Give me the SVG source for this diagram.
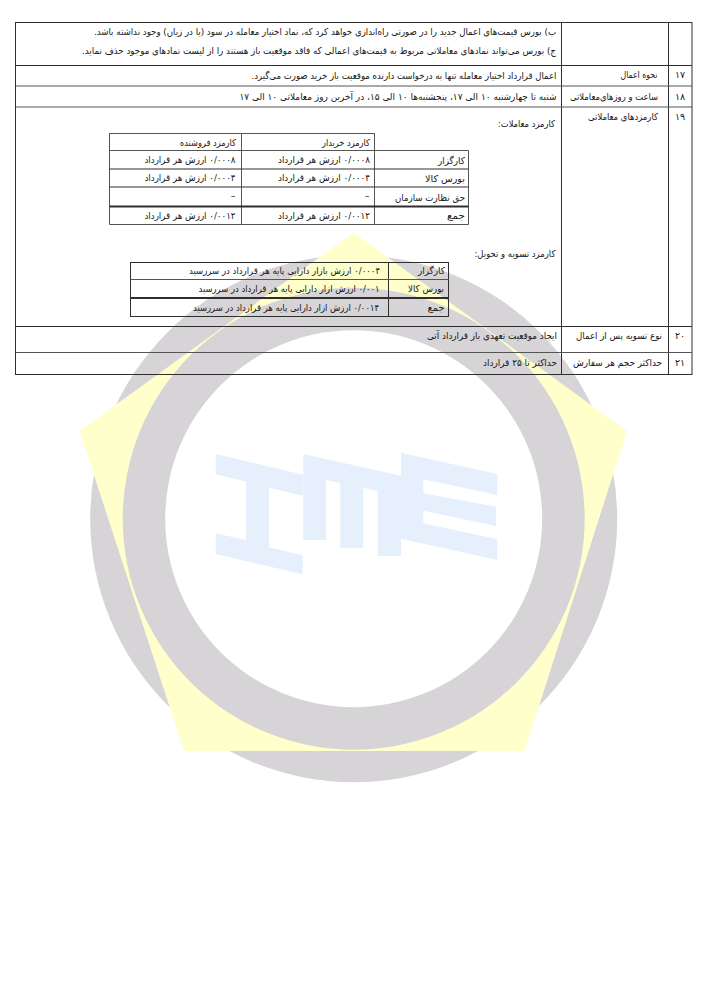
<svg xmlns="http://www.w3.org/2000/svg" width="707" height="1000" viewBox="0 0 707 1000">
<style>
text{font-family:"DejaVu Sans","Noto Sans",sans-serif;font-size:9.5px;fill:#161616;direction:rtl;text-anchor:middle;unicode-bidi:embed}
.l{stroke:#2e2e2e;stroke-width:1;fill:none}
.g{stroke:#555;stroke-width:1;fill:none}
.h{stroke:#2e2e2e;stroke-width:2;fill:none}
.logo{fill:#e6f0fc}
</style>
<rect width="707" height="1000" fill="#fff"/>
<g id="watermark">
<circle cx="353.7" cy="518.7" r="263.5" fill="#d6d4d6"/>
<polygon points="353.5,232.5 627,431 524.6,751 184,751 79.6,431" fill="#ffffcc"/>
<circle cx="353.7" cy="518.7" r="231" fill="#d6d4d6"/>
<circle cx="353.7" cy="518.7" r="188.5" fill="#fff"/>
<g class="logo" transform="translate(200 440) scale(.3333)">
<polygon points="47,42 310,104 310,167 207,143 207,322 308,346 308,403 47,342 47,280 138,300 138,125 47,103"/>
<polygon points="310,42 603,107 603,348 533,348 533,152 490,144 490,323 421,323 421,130 378,120 378,300 310,300"/>
<polygon points="603,38 892,102 892,165 670,118 670,160 888,200 888,258 670,212 670,250 892,298 892,360 603,296"/>
</g>
</g>
<g id="main-table">
<rect class="l" x="15.500" y="22.500" width="676.500" height="352"/>
<path class="l" d="M561.500 22.500V374.500M668.500 22.500V374.500M15.500 65.500H692M15.500 326.500H692"/>
<path class="g" d="M15.500 86H692M15.500 107H692M15.500 352.500H692"/>
</g>
<g id="fee-table">
<rect class="g" x="109.500" y="133.500" width="265" height="17"/>
<path class="g" d="M109.500 150.500V224.500H468.500V150.500H109.500M241.500 133.500V224.500M374.500 133.500V224.500"/>
<path class="l" d="M109.500 169H468.500M109.500 187H468.500"/>
<path class="h" d="M109.500 206.500H468.500"/>
</g>
<g id="settlement-table">
<rect class="l" x="130.500" y="262.500" width="318" height="54"/>
<path class="l" d="M388.500 262.500V316.500"/>
<path class="g" d="M130.500 279.500H448.500"/>
<path class="h" d="M130.500 298H448.500"/>
</g>
<g id="texts">
<text x="325" y="35" textLength="462" lengthAdjust="spacingAndGlyphs">ب) بورس قیمت‌های اعمال جدید را در صورتی راه‌اندازی خواهد کرد که، نماد اختیار معامله در سود (یا در زیان) وجود نداشته باشد.</text>
<text x="319" y="53.500" textLength="474" lengthAdjust="spacingAndGlyphs">ج) بورس می‌تواند نمادهای معاملاتی مربوط به قیمت‌های اعمالی که فاقد موقعیت باز هستند را از لیست نمادهای موجود حذف نماید.</text>
<text x="404" y="78.500" textLength="305" lengthAdjust="spacingAndGlyphs">اعمال قرارداد اختیار معامله تنها به درخواست دارنده موقعیت باز خرید صورت می‌گیرد.</text>
<text x="639" y="78" textLength="37" lengthAdjust="spacingAndGlyphs">نحوه اعمال</text>
<text x="680" y="78">۱۷</text>
<text x="398" y="100" textLength="317" lengthAdjust="spacingAndGlyphs">شنبه تا چهارشنبه ۱۰ الی ۱۷، پنجشنبه‌ها ۱۰ الی ۱۵، در آخرین روز معاملاتی ۱۰ الی ۱۷</text>
<text x="614" y="100" textLength="88" lengthAdjust="spacingAndGlyphs">ساعت و روزهای‌معاملاتی</text>
<text x="680" y="100">۱۸</text>
<text x="623" y="120" textLength="70" lengthAdjust="spacingAndGlyphs">کارمزدهای معاملاتی</text>
<text x="680" y="120">۱۹</text>
<text x="526.500" y="127" textLength="57" lengthAdjust="spacingAndGlyphs">کارمزد معاملات:</text>
<text x="208" y="146" textLength="56" lengthAdjust="spacingAndGlyphs">کارمزد فروشنده</text>
<text x="346" y="146" textLength="48" lengthAdjust="spacingAndGlyphs">کارمزد خریدار</text>
<text x="451.500" y="164" textLength="27" lengthAdjust="spacingAndGlyphs">کارگزار</text>
<text x="190" y="163" textLength="91" lengthAdjust="spacingAndGlyphs">۰/۰۰۰۸ ارزش هر قرارداد</text>
<text x="324" y="163" textLength="92" lengthAdjust="spacingAndGlyphs">۰/۰۰۰۸ ارزش هر قرارداد</text>
<text x="445" y="182" textLength="40" lengthAdjust="spacingAndGlyphs">بورس کالا</text>
<text x="190" y="181" textLength="91" lengthAdjust="spacingAndGlyphs">۰/۰۰۰۴ ارزش هر قرارداد</text>
<text x="324" y="181" textLength="92" lengthAdjust="spacingAndGlyphs">۰/۰۰۰۴ ارزش هر قرارداد</text>
<text x="430" y="201" textLength="70" lengthAdjust="spacingAndGlyphs">حق نظارت سازمان</text>
<text x="233" y="199">–</text>
<text x="367" y="199">–</text>
<text x="456" y="219" textLength="18" lengthAdjust="spacingAndGlyphs">جمع</text>
<text x="190" y="219" textLength="91" lengthAdjust="spacingAndGlyphs">۰/۰۰۱۲ ارزش هر قرارداد</text>
<text x="324" y="219" textLength="92" lengthAdjust="spacingAndGlyphs">۰/۰۰۱۲ ارزش هر قرارداد</text>
<text x="515" y="257" textLength="81" lengthAdjust="spacingAndGlyphs">کارمزد تسویه و تحویل:</text>
<text x="431.500" y="274" textLength="27" lengthAdjust="spacingAndGlyphs">کارگزار</text>
<text x="284.500" y="274" textLength="191" lengthAdjust="spacingAndGlyphs">۰/۰۰۰۴ ارزش بازار دارایی پایه هر قرارداد در سررسید</text>
<text x="426" y="292" textLength="36" lengthAdjust="spacingAndGlyphs">بورس کالا</text>
<text x="289" y="292" textLength="181" lengthAdjust="spacingAndGlyphs">۰/۰۰۱ ارزش ازار دارایی پایه هر قرارداد در سررسید</text>
<text x="436" y="311" textLength="17" lengthAdjust="spacingAndGlyphs">جمع</text>
<text x="286" y="311" textLength="186" lengthAdjust="spacingAndGlyphs">۰/۰۰۱۴ ارزش ازار دارایی پایه هر قرارداد در سررسید</text>
<text x="492" y="339" textLength="130" lengthAdjust="spacingAndGlyphs">ایجاد موقعیت تعهدی باز قرارداد آتی</text>
<text x="619" y="339" textLength="86" lengthAdjust="spacingAndGlyphs">نوع تسویه پس از اعمال</text>
<text x="680" y="339">۲۰</text>
<text x="520" y="366" textLength="74" lengthAdjust="spacingAndGlyphs">حداکثر تا ۲۵ قرارداد</text>
<text x="617.500" y="366" textLength="89" lengthAdjust="spacingAndGlyphs">حداکثر حجم هر سفارش</text>
<text x="680" y="366">۲۱</text>
</g>
</svg>
